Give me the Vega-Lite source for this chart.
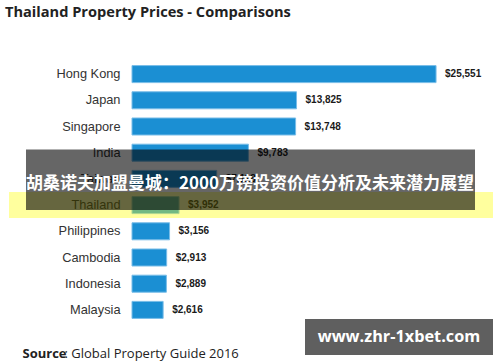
{
  "$schema": "https://vega.github.io/schema/vega-lite/v6.json",
  "width": 357,
  "height": 262,
  "autosize": "none",
  "padding": {"left": 132, "top": 61, "right": 11, "bottom": 39},
  "background": "white",
  "title": {
    "text": "Thailand Property Prices - Comparisons",
    "anchor": "start",
    "frame": "group",
    "dx": -127,
    "dy": -37,
    "font": "Open Sans",
    "fontSize": 14.6,
    "fontWeight": "bold",
    "color": "#222222"
  },
  "config": {"view": {"stroke": null}},
  "resolve": {"scale": {"y": "independent"}, "axis": {"x": "independent"}},
  "layer": [
    {
      "data": {"name": "prices", "values": [
        {"country": "Hong Kong", "value": 25551},
        {"country": "Japan", "value": 13825},
        {"country": "Singapore", "value": 13748},
        {"country": "India", "value": 9783},
        {"country": "Taiwan", "value": 7118},
        {"country": "Thailand", "value": 3952},
        {"country": "Philippines", "value": 3156},
        {"country": "Cambodia", "value": 2913},
        {"country": "Indonesia", "value": 2889},
        {"country": "Malaysia", "value": 2616}
      ]},
      "mark": {"type": "bar", "color": "#1b8fd3", "stroke": "#79bde8", "strokeWidth": 1},
      "encoding": {
        "x": {"field": "value", "type": "quantitative", "scale": {"domain": [0, 30000]},
          "axis": {"orient": "bottom", "domain": false, "ticks": false, "labels": false, "grid": false,
            "title": "Source", "titleFont": "Open Sans", "titleFontSize": 13, "titleFontWeight": "bold", "titleColor": "#222222",
            "titleAlign": "left", "titleAnchor": "start", "titleBaseline": "alphabetic", "titleX": -110, "titleY": 34}},
        "y": {"field": "country", "type": "nominal", "sort": null,
          "scale": {"paddingInner": 0.35, "paddingOuter": 0.175},
          "axis": {"title": null, "domain": false, "ticks": false, "labelPadding": 12,
            "labelFont": "Liberation Sans", "labelFontSize": 12.8, "labelColor": "#333333"}}
      }
    },
    {
      "data": {"name": "prices"},
      "mark": {"type": "text", "align": "left", "baseline": "middle", "dx": 9, "font": "Liberation Sans", "fontSize": 10, "fontWeight": "bold", "color": "#1a1a1a"},
      "encoding": {
        "x": {"field": "value", "type": "quantitative", "scale": {"domain": [0, 30000]},
          "axis": {"orient": "bottom", "domain": false, "ticks": false, "labels": false, "grid": false,
            "title": ": Global Property Guide 2016", "titleFont": "Open Sans", "titleFontSize": 13, "titleFontWeight": "normal", "titleColor": "#222222",
            "titleAlign": "left", "titleAnchor": "start", "titleBaseline": "alphabetic", "titleX": -68, "titleY": 34}},
        "y": {"field": "country", "type": "nominal", "sort": null,
          "scale": {"paddingInner": 0.35, "paddingOuter": 0.175}, "axis": null},
        "text": {"field": "value", "type": "quantitative", "format": "$,.0f"}
      }
    },
    {
      "data": {"values": [{"x1": -10336, "x2": 30336, "r1": 5.0, "r2": 5.99}]},
      "mark": {"type": "rect", "color": "#ffff00", "opacity": 0.38},
      "encoding": {
        "x": {"field": "x1", "type": "quantitative", "scale": {"domain": [0, 30000]}, "axis": null},
        "x2": {"field": "x2"},
        "y": {"field": "r1", "type": "quantitative", "scale": {"domain": [0, 10], "reverse": true}, "axis": null},
        "y2": {"field": "r2"}
      }
    },
    {
      "data": {"values": [{"x1": -8908, "x2": 28824, "r1": 3.38, "r2": 5.69}]},
      "mark": {"type": "rect", "color": "#000000", "opacity": 0.6},
      "encoding": {
        "x": {"field": "x1", "type": "quantitative", "scale": {"domain": [0, 30000]}, "axis": null},
        "x2": {"field": "x2"},
        "y": {"field": "r1", "type": "quantitative", "scale": {"domain": [0, 10], "reverse": true}, "axis": null},
        "y2": {"field": "r2"}
      }
    },
    {
      "data": {"values": [{"x": 9916, "r": 4.69, "label": "胡桑诺夫加盟曼城：2000万镑投资价值分析及未来潜力展望"}]},
      "mark": {"type": "text", "align": "center", "baseline": "middle", "font": "Noto Sans CJK SC", "fontSize": 17, "fontWeight": "bold", "color": "white"},
      "encoding": {
        "x": {"field": "x", "type": "quantitative", "scale": {"domain": [0, 30000]}, "axis": null},
        "y": {"field": "r", "type": "quantitative", "scale": {"domain": [0, 10], "reverse": true}, "axis": null},
        "text": {"field": "label"}
      }
    },
    {
      "data": {"values": [{"x1": 14538, "x2": 30336, "r1": 9.85, "r2": 11.22}]},
      "mark": {"type": "rect", "color": "#5f5f5f", "opacity": 1},
      "encoding": {
        "x": {"field": "x1", "type": "quantitative", "scale": {"domain": [0, 30000]}, "axis": null},
        "x2": {"field": "x2"},
        "y": {"field": "r1", "type": "quantitative", "scale": {"domain": [0, 10], "reverse": true}, "axis": null},
        "y2": {"field": "r2"}
      }
    },
    {
      "data": {"values": [{"x": 22437, "r": 10.53, "label": "www.zhr-1xbet.com"}]},
      "mark": {"type": "text", "align": "center", "baseline": "middle", "font": "Open Sans", "fontSize": 16.3, "fontWeight": "bold", "color": "white"},
      "encoding": {
        "x": {"field": "x", "type": "quantitative", "scale": {"domain": [0, 30000]}, "axis": null},
        "y": {"field": "r", "type": "quantitative", "scale": {"domain": [0, 10], "reverse": true}, "axis": null},
        "text": {"field": "label"}
      }
    }
  ]
}
